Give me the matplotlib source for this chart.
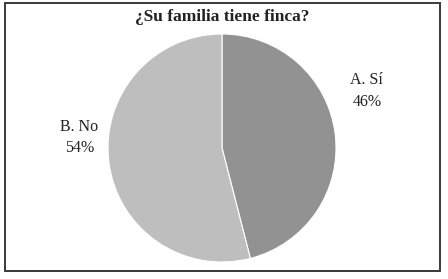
import matplotlib
matplotlib.use("Agg")
import matplotlib.pyplot as plt
from matplotlib.patches import Rectangle

title = "¿Su familia tiene finca?"
categories = ["A. Sí", "B. No"]
values = [46, 54]
colors = ["#929292", "#bebebe"]

plt.rcParams['font.family'] = ['Liberation Serif', 'DejaVu Serif']

fig = plt.figure(figsize=(4.48, 2.79), dpi=100)
fig.patch.set_facecolor("white")
ax = fig.add_axes([0, 0, 1, 1])

wedges, _ = ax.pie(values, colors=colors, startangle=90, counterclock=False,
                   radius=1.0, center=(0, 0), frame=True,
                   wedgeprops=dict(edgecolor="white", linewidth=0.8))
ax.set_xlim(-1.947, 1.982)
ax.set_ylim(-1.149, 1.298)
ax.set_aspect("auto")
ax.axis("off")

label_pos = [(1.27, 0.50), (-1.25, 0.09)]
for cat, v, (x, y) in zip(categories, values, label_pos):
    ax.text(x, y, f"{cat}\n{v}%", ha="center", va="center", fontsize=11.5,
            color="#222222", linespacing=1.45)

fig.text(222/448, 1 - 17/279, title, ha="center", va="center",
         fontsize=12.5, fontweight="bold", color="#222222")

fig.patches.append(Rectangle((5/448, 1 - 271/279), 435/448, 268/279,
                             transform=fig.transFigure, fill=False,
                             edgecolor="#3a3a3a", linewidth=1.4))

fig.savefig("out.png", dpi=100)
